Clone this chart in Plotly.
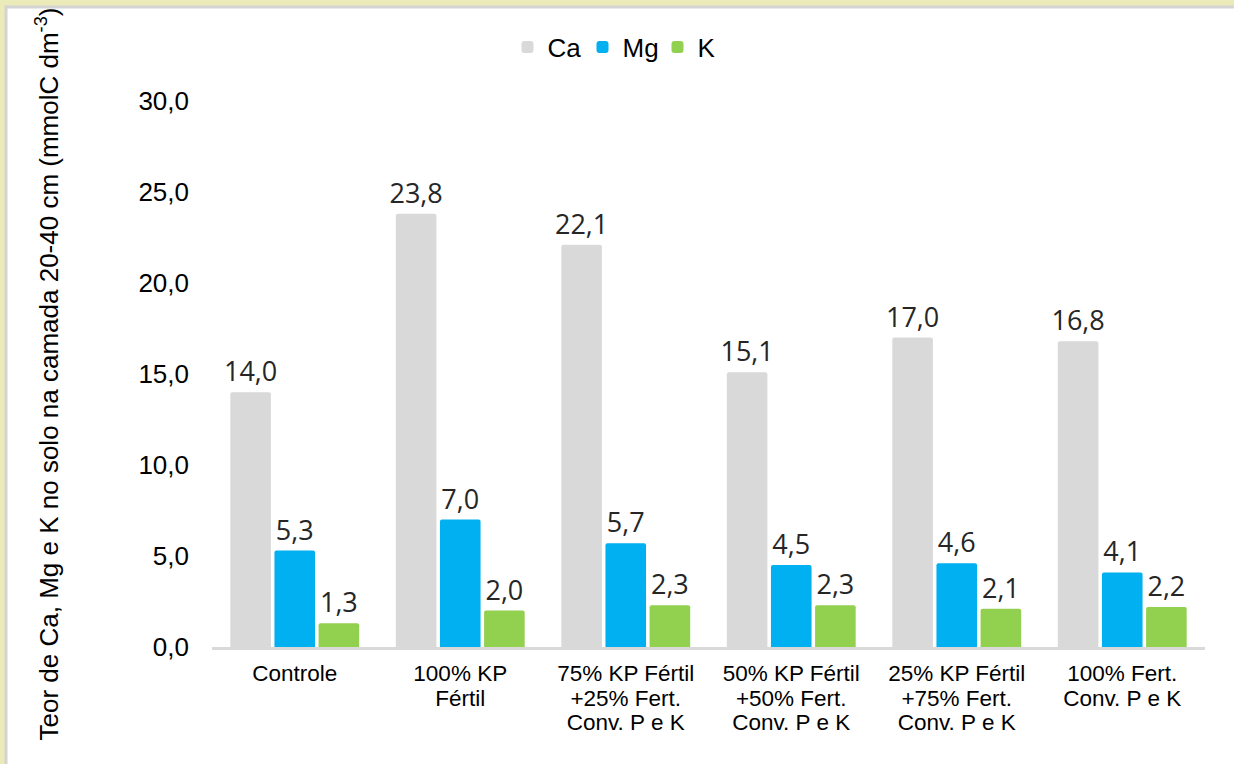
import plotly.graph_objects as go

categories = [
    "Controle",
    "100% KP\nFértil",
    "75% KP Fértil\n+25% Fert.\nConv. P e K",
    "50% KP Fértil\n+50% Fert.\nConv. P e K",
    "25% KP Fértil\n+75% Fert.\nConv. P e K",
    "100% Fert.\nConv. P e K",
]
ca = [14.0, 23.8, 22.1, 15.1, 17.0, 16.8]
mg = [5.3, 7.0, 5.7, 4.5, 4.6, 4.1]
k = [1.3, 2.0, 2.3, 2.3, 2.1, 2.2]
y_ticks = [0, 5, 10, 15, 20, 25, 30]

series = [("Ca", ca, "#D9D9D9"), ("Mg", mg, "#00B0F0"), ("K", k, "#92D050")]

W, H = 1234, 764
L, R, T, B = 212, 29, 101, 117
pw, ph = W - L - R, H - T - B

def px_to_paper_x(px):
    return (px - L) / pw

def px_to_paper_y(py):
    return (H - B - py) / ph

cat_ids = list(range(len(categories)))
cat_text = ["<br>".join(f"<span style='font-size:22.5px'>{ln}</span>" for ln in c.split("\n"))
            for c in categories]

fig = go.Figure()
for name, vals, color in series:
    fig.add_trace(go.Bar(
        name=name, x=cat_ids, y=vals,
        marker=dict(color=color, line=dict(width=0), cornerradius=2),
        text=[f"{v:.1f}".replace(".", ",") for v in vals],
        textposition="outside",
        constraintext="none",
        textfont=dict(family="Open Sans", size=27, color="#262626"),
        cliponaxis=False,
        hoverinfo="skip",
    ))

fig.update_layout(
    width=W, height=H,
    margin=dict(l=L, r=R, t=T, b=B),
    paper_bgcolor="#EBEBB9",
    plot_bgcolor="rgba(0,0,0,0)",
    barmode="group",
    bargap=0.2,
    bargroupgap=0.08,
    separators=",.",
    font=dict(family="Liberation Sans, Arial", color="#000000"),
    legend=dict(
        orientation="h", x=px_to_paper_x(620), xanchor="center",
        y=px_to_paper_y(47), yanchor="middle",
        font=dict(size=26, family="Liberation Sans, Arial"),
        bgcolor="rgba(0,0,0,0)", itemwidth=30, traceorder="normal",
        entrywidth=30,
    ),
    shapes=[dict(
        type="rect", xref="paper", yref="paper", layer="below",
        x0=px_to_paper_x(6), x1=px_to_paper_x(W + 10),
        y0=px_to_paper_y(H + 10), y1=px_to_paper_y(7),
        fillcolor="#FFFFFF", line=dict(color="#D4D4D4", width=3),
    )],
)
fig.update_yaxes(
    range=[0, 30], tickvals=y_ticks, tickformat=".1f",
    showgrid=False, zeroline=False, showline=False,
    tickfont=dict(size=26, family="Liberation Sans, Arial"),
    ticklabelstandoff=22,
    title=dict(
        text="Teor de Ca, Mg e K no solo na camada 20-40 cm (mmolC dm<sup>-3</sup>)",
        font=dict(size=26, family="Liberation Sans, Arial"),
        standoff=72,
    ),
)
fig.update_xaxes(
    tickvals=cat_ids, ticktext=cat_text, range=[-0.5, len(categories) - 0.5],
    showgrid=False, showline=True, linecolor="#D9D9D9", linewidth=3,
    tickfont=dict(size=19, family="Liberation Sans, Arial"),
    ticks="", tickangle=0, ticklabelstandoff=8,
)
fig.write_html("out.html", config={"displayModeBar": False},
               post_script="document.body.style.margin='0';")
